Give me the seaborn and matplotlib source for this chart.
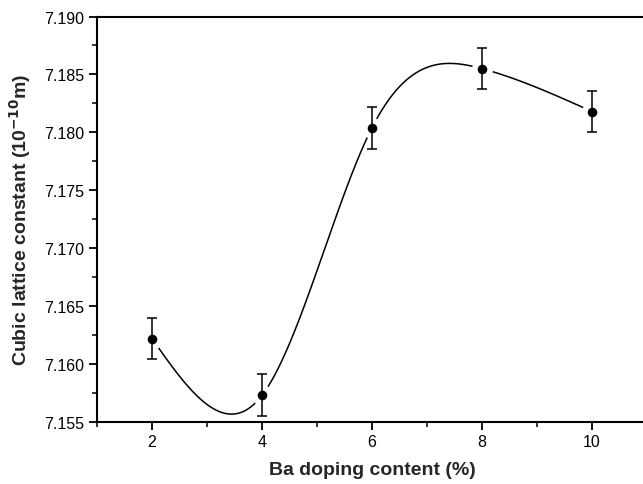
import numpy as np
import pandas as pd
import matplotlib
matplotlib.use("Agg")
import matplotlib.pyplot as plt
import seaborn as sns
from matplotlib.ticker import MultipleLocator

# data
ba_content = [2, 4, 6, 8, 10]
lattice_const = [7.1622, 7.1573, 7.1804, 7.1855, 7.1818]
lattice_err = [0.0018, 0.0018, 0.0018, 0.0018, 0.0018]

sns.set_style("ticks")
plt.rcParams['font.family'] = ['Liberation Sans', 'DejaVu Sans']


def natural_spline(x, y, xs):
    x = np.asarray(x, float); y = np.asarray(y, float)
    n = len(x)
    h = np.diff(x)
    A = np.zeros((n, n)); b = np.zeros(n)
    A[0, 0] = 1; A[-1, -1] = 1
    for i in range(1, n - 1):
        A[i, i - 1] = h[i - 1]
        A[i, i] = 2 * (h[i - 1] + h[i])
        A[i, i + 1] = h[i]
        b[i] = 3 * ((y[i + 1] - y[i]) / h[i] - (y[i] - y[i - 1]) / h[i - 1])
    c = np.linalg.solve(A, b)
    out = np.empty_like(xs)
    for k, xv in enumerate(xs):
        i = min(max(np.searchsorted(x, xv) - 1, 0), n - 2)
        dx = xv - x[i]
        bb = (y[i + 1] - y[i]) / h[i] - h[i] * (2 * c[i] + c[i + 1]) / 3
        d = (c[i + 1] - c[i]) / (3 * h[i])
        out[k] = y[i] + bb * dx + c[i] * dx ** 2 + d * dx ** 3
    return out


xs = np.linspace(ba_content[0], ba_content[-1], 400)
ys = natural_spline(ba_content, lattice_const, xs)
curve = pd.DataFrame({"x": xs, "y": ys})
pts = pd.DataFrame({"x": ba_content, "y": lattice_const, "e": lattice_err})

fig = plt.figure(figsize=(6.43, 4.85), dpi=100)
ax = fig.add_axes([97 / 643, 1 - 423 / 485, 550 / 643, (423 - 17.5) / 485])

sns.lineplot(data=curve, x="x", y="y", ax=ax, color="black", lw=1.1, sort=False, zorder=2)
# white halos to create gaps around markers
ax.scatter(pts["x"], pts["y"], s=230, color="white", zorder=3, linewidths=0)
ax.errorbar(pts["x"], pts["y"], yerr=pts["e"], fmt="none", ecolor="black",
            elinewidth=1.1, capsize=3.4, capthick=1.1, zorder=4)
sns.scatterplot(data=pts, x="x", y="y", ax=ax, color="black", s=48,
                edgecolor="black", linewidth=0, zorder=5, legend=False)

ax.set_xlim(1, 11)
ax.set_ylim(7.155, 7.190)
ax.set_xticks([2, 4, 6, 8, 10])
ax.xaxis.set_minor_locator(MultipleLocator(1))
ax.set_yticks(np.arange(7.155, 7.1901, 0.005))
ax.set_yticklabels([f"{v:.3f}" for v in np.arange(7.155, 7.1901, 0.005)])
ax.yaxis.set_minor_locator(MultipleLocator(0.0025))

for s in ax.spines.values():
    s.set_linewidth(1.5)
    s.set_color("black")
ax.spines["right"].set_visible(True)

ax.tick_params(which="major", direction="out", length=6, width=1.3, labelsize=11.5, colors="black", pad=3)
ax.tick_params(which="minor", direction="out", length=3.5, width=1.3)

ax.set_xlabel("Ba doping content (%)", fontsize=14, fontweight="bold", labelpad=8)
ax.set_ylabel("Cubic lattice constant (10$^{\\mathbf{-10}}$m)", fontsize=14, fontweight="bold", labelpad=8)

fig.savefig("out.png", dpi=100)
